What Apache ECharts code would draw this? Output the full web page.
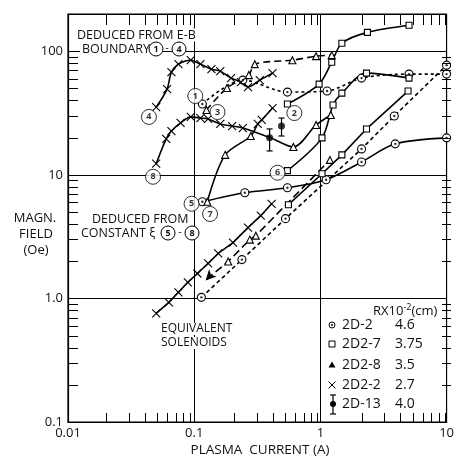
<!DOCTYPE html>
<html><head><meta charset="utf-8">
<script src="https://cdn.jsdelivr.net/npm/echarts@6/dist/echarts.min.js"></script>
<style>html,body{margin:0;padding:0;background:#fff}#c{width:457px;height:458px}</style>
</head><body><div id="c"></div>
<script>
// ---------- data ----------
const xTickLabels = ['0.01', '0.1', '1', '10'];
const yTickLabels = ['0.1', '1.0', '10', '100'];
const xMin = 0.01, xMax = 10, yMin = 0.1, yMax = 200;
const xMinor = [0.02,0.03,0.04,0.05,0.06,0.07,0.08,0.09,0.2,0.3,0.4,0.5,0.6,0.7,0.8,0.9,2,3,4,5,6,7,8,9];
const yMinor = [0.2,0.3,0.4,0.5,0.6,0.7,0.8,0.9,2,3,4,5,6,7,8,9,20,30,40,50,60,70,80,90];

// (1) 2D-2, E-B boundary
const c1_x = [0.116, 0.243, 0.548, 1.13, 2.12, 5.04, 10];
const c1_y = [37.4, 58.4, 46.7, 47.6, 60.6, 65.3, 65.3];
// (2) 2D2-7, E-B boundary
const c2_x = [0.548, 0.977, 1.23, 1.48, 2.36, 5.04];
const c2_y = [37.4, 54.2, 81.5, 116, 142, 162];
// (3) 2D2-8, E-B boundary
const c3_x = [0.125, 0.182, 0.271, 0.302, 0.600, 0.925, 1.23];
const c3_y = [33.4, 50.4, 64.1, 78.6, 84.6, 91.2, 92.9];
// (4) 2D2-2, E-B boundary
const c4_x = [0.050, 0.061, 0.066, 0.075, 0.094, 0.112, 0.137, 0.161, 0.196, 0.235, 0.267, 0.331, 0.418];
const c4_y = [35.3, 49.4, 67.8, 78.6, 84.6, 78.6, 71.6, 69.0, 60.6, 56.3, 51.3, 58.4, 66.5];
// (5) 2D-2, constant xi
const c5_x = [0.116, 0.252, 0.548, 1.11, 2.12, 3.92, 10];
const c5_y = [6.05, 7.16, 7.85, 9.12, 12.7, 17.8, 19.9];
// (6) 2D2-7, constant xi
const c6_x = [0.548, 1.03, 1.26, 1.48, 2.32, 5.04];
const c6_y = [10.8, 19.9, 36.7, 45.8, 66.5, 60.6];
// (7) 2D2-8, constant xi
const c7_x = [0.127, 0.176, 0.281, 0.319, 0.343, 0.418];
const c7_y = [6.05, 14.5, 20.6, 25.8, 27.8, 34.7];
const c7_sym = ['tri', 'tri', 'tri', 'x', 'x', 'x'];
// (8) 2D2-2, constant xi
const c8_x = [0.050, 0.060, 0.066, 0.078, 0.094, 0.112, 0.129, 0.161, 0.200, 0.243, 0.403, 0.611, 0.925, 1.21];
const c8_y = [12.3, 19.5, 22.6, 26.3, 29.4, 28.8, 28.3, 25.8, 24.8, 23.9, 19.9, 16.8, 25.3, 30.5];
const c8_sym = ['x','x','x','x','x','x','x','x','x','x','none','tri','tri','tri'];
// equivalent solenoids
const solX_x = [0.050, 0.063, 0.075, 0.089, 0.106, 0.129, 0.155, 0.203, 0.267, 0.337, 0.411];
const solX_y = [0.757, 0.929, 1.12, 1.35, 1.59, 1.92, 2.31, 2.83, 3.74, 4.67, 5.83];
const solT_x = [0.125, 0.186, 0.276, 0.308, 1.19];
const solT_y = [1.42, 1.99, 2.99, 3.22, 13.2];
const solT_sym = ['arrow', 'tri', 'tri', 'tri', 'tri'];
const solS_x = [0.558, 1.03, 1.48, 2.32, 4.95];
const solS_y = [5.73, 10.2, 14.5, 23.5, 47.6];
const solC_x = [0.114, 0.239, 0.529, 2.12, 3.85, 10];
const solC_y = [1.02, 2.06, 4.42, 16.2, 29.9, 77.1];
// 2D-13 with error bars
const e_x = [0.396, 0.492];
const e_y = [19.9, 24.8];
const e_lo = [15.6, 20.6];
const e_hi = [23.5, 28.8];
// circled curve numbers
const note_text = ['1', '2', '3', '4', '5', '6', '7', '8'];
const note_x = [0.102, 0.622, 0.153, 0.0438, 0.0953, 0.458, 0.1336, 0.0472];
const note_y = [43.4, 31.6, 32.2, 29.4, 5.83, 10.4, 4.82, 9.64];
// legend
const legNames = ['2D-2', '2D2-7', '2D2-8', '2D2-2', '2D-13'];
const legVals = ['4.6', '3.75', '3.5', '2.7', '4.0'];

// ---------- styling ----------
const FONT = "'Open Sans', 'DejaVu Sans', sans-serif";
const INK = '#111';
const CROSS = 'path://M0,0L10,10M10,0L0,10';
const SYM = {circ: 'circle', sq: 'rect', tri: 'triangle', x: CROSS, arrow: 'arrow', none: 'none'};
const GRID = {left: 68, right: 6, top: 14, bottom: 36};
const W = 457, H = 458;

function pts(xs, ys, syms) {
  return xs.map((x, i) => {
    const d = {value: [x, ys[i]]};
    if (syms) {
      d.symbol = SYM[syms[i]];
      if (syms[i] === 'arrow') { d.symbolRotate = 136; d.symbolSize = [6, 8]; d.itemStyle = {color: '#000'}; }
      if (syms[i] === 'x') d.symbolSize = 8;
    }
    return d;
  });
}
function lineS(xs, ys, opt) {
  return {
    type: 'line', data: pts(xs, ys, opt.syms), symbol: SYM[opt.sym], symbolSize: opt.size || 7,
    showAllSymbol: true, smooth: opt.smooth === undefined ? 0.3 : opt.smooth,
    lineStyle: {color: '#000', width: opt.width || 1.6, type: opt.dash || 'solid'},
    itemStyle: {color: '#fff', borderColor: '#000', borderWidth: 1.1},
    z: 3, animation: false, emphasis: {disabled: true}, silent: true
  };
}
function dots(xs, ys) {
  return {type: 'scatter', data: xs.map((x, i) => [x, ys[i]]), symbol: 'circle', symbolSize: 2.4,
    itemStyle: {color: '#000'}, z: 4, animation: false, silent: true};
}

const series = [
  lineS(c1_x, c1_y, {sym: 'circ', dash: [3, 3], size: 8}),
  dots(c1_x, c1_y),
  lineS(c2_x, c2_y, {sym: 'sq', size: 6}),
  lineS(c3_x, c3_y, {sym: 'tri', dash: [7, 4]}),
  lineS(c4_x, c4_y, {sym: 'x', size: 8}),
  lineS(c5_x, c5_y, {sym: 'circ', size: 8}),
  dots(c5_x, c5_y),
  lineS(c6_x, c6_y, {sym: 'sq', size: 6}),
  lineS(c7_x, c7_y, {syms: c7_sym, sym: 'tri'}),
  lineS(c8_x, c8_y, {syms: c8_sym, sym: 'x'}),
  lineS(solX_x, solX_y, {sym: 'x', size: 8, smooth: false}),
  lineS(solT_x, solT_y, {syms: solT_sym, sym: 'tri', dash: [8, 4], smooth: false}),
  lineS(solS_x, solS_y, {sym: 'sq', size: 6, smooth: false}),
  lineS(solC_x, solC_y, {sym: 'circ', size: 8, dash: [4, 3], smooth: false}),
  dots(solC_x, solC_y),
  // error bars 2D-13
  {type: 'custom', coordinateSystem: 'cartesian2d', silent: true, z: 4, animation: false, encode: {x: 0, y: [1, 2]},
   data: e_x.map((x, i) => [x, e_lo[i], e_hi[i]]),
   renderItem: (p, api) => {
     const x = api.value(0);
     const t = api.coord([x, api.value(2)]); const b = api.coord([x, api.value(1)]);
     return {type: 'group', children: [
       {type: 'line', shape: {x1: t[0], y1: t[1], x2: b[0], y2: b[1]}, style: {stroke: '#000', lineWidth: 1.2}},
       {type: 'line', shape: {x1: t[0] - 3, y1: t[1], x2: t[0] + 3, y2: t[1]}, style: {stroke: '#000', lineWidth: 1.2}},
       {type: 'line', shape: {x1: b[0] - 3, y1: b[1], x2: b[0] + 3, y2: b[1]}, style: {stroke: '#000', lineWidth: 1.2}}]};
   }},
  {type: 'scatter', data: e_x.map((x, i) => [x, e_y[i]]), symbol: 'circle', symbolSize: 7,
   itemStyle: {color: '#000'}, z: 5, animation: false, silent: true},
  // circled numbers
  {type: 'scatter', z: 10, animation: false, silent: true,
   data: note_x.map((x, i) => ({value: [x, note_y[i]], name: note_text[i]})),
   symbol: 'circle', symbolSize: 15,
   itemStyle: {color: '#fff', borderColor: '#000', borderWidth: 1},
   label: {show: true, position: 'inside', formatter: '{b}', fontSize: 9, fontWeight: 'bold', color: '#000', fontFamily: FONT}}
];

// ---------- graphic text ----------
function T(text, x, y, size, align, extra) {
  return Object.assign({type: 'text', x: x, y: y, z: 100,
    style: Object.assign({text: text, font: size + 'px ' + FONT, fill: INK, align: align || 'left', verticalAlign: 'middle'}, (extra || {}))});
}
function C(cx, cy, num) {
  return [
    {type: 'circle', z: 100, shape: {cx: cx, cy: cy, r: 7}, style: {fill: '#fff', stroke: '#000', lineWidth: 1}},
    T(num, cx, cy + 0.5, 9, 'center', {font: 'bold 9px ' + FONT})
  ];
}
function L(x1, y1, x2, y2, w) {
  return {type: 'line', z: 100, shape: {x1: x1, y1: y1, x2: x2, y2: y2}, style: {stroke: '#000', lineWidth: w || 1}};
}
const legY = [325, 344, 365, 385, 404];
const graphics = [
  T('DEDUCED FROM E-B', 77, 35, 12.5, 'left', {backgroundColor: '#fff'}),
  T('BOUNDARY', 80, 49, 12.5, 'left', {backgroundColor: '#fff', padding: [0, 2, 0, 2]}),
  ...C(156, 49, '1'), T('-', 167, 48, 11, 'center'), ...C(179, 49, '4'),
  T('DEDUCED FROM', 92, 219, 12.5, 'left', {backgroundColor: '#fff'}),
  T('CONSTANT ξ', 81, 233, 12.5, 'left', {backgroundColor: '#fff'}),
  ...C(168, 233, '5'), T('-', 180, 232, 11, 'center'), ...C(192, 233, '8'),
  T('EQUIVALENT', 161, 329, 12, 'left', {backgroundColor: '#fff'}),
  T('SOLENOIDS', 161, 343, 12, 'left', {backgroundColor: '#fff'}),
  T('MAGN.', 35, 218, 13, 'center'),
  T('FIELD', 36, 234, 13, 'center'),
  T('(Oe)', 36, 250, 13, 'center'),
  T('PLASMA  CURRENT (A)', 260, 450, 13.5, 'center'),
  {type: 'text', x: 373, y: 311, z: 100, style: {
    text: 'RX10{s|-2}(cm)', font: '13px ' + FONT, fill: INK, align: 'left', verticalAlign: 'middle',
    rich: {s: {fontSize: 9, verticalAlign: 'top', padding: [0, 0, 8, 0], fill: INK, fontFamily: FONT}}}}
];
legNames.forEach((n, i) => {
  graphics.push(T(n, 342, legY[i], 14, 'left'));
  graphics.push(T(legVals[i], 395, legY[i], 14, 'left'));
});
// legend symbols
const sx = 332;
graphics.push({type: 'circle', z: 100, shape: {cx: sx, cy: legY[0], r: 3}, style: {fill: '#fff', stroke: '#000', lineWidth: 1}});
graphics.push({type: 'circle', z: 101, shape: {cx: sx, cy: legY[0], r: 1}, style: {fill: '#000'}});
graphics.push({type: 'rect', z: 100, shape: {x: sx - 3, y: legY[1] - 3, width: 6, height: 6}, style: {fill: '#fff', stroke: '#000', lineWidth: 1}});
graphics.push({type: 'polygon', z: 100, shape: {points: [[sx, legY[2] - 3.5], [sx + 3.5, legY[2] + 2.5], [sx - 3.5, legY[2] + 2.5]]}, style: {fill: '#000'}});
graphics.push(L(sx - 3.5, legY[3] - 3.5, sx + 3.5, legY[3] + 3.5));
graphics.push(L(sx + 3.5, legY[3] - 3.5, sx - 3.5, legY[3] + 3.5));
graphics.push(L(sx + 1, legY[4] - 9, sx + 1, legY[4] + 10, 1.2));
graphics.push(L(sx - 2, legY[4] - 9, sx + 4, legY[4] - 9, 1.2));
graphics.push(L(sx - 2, legY[4] + 10, sx + 4, legY[4] + 10, 1.2));
graphics.push({type: 'circle', z: 100, shape: {cx: sx + 1, cy: legY[4], r: 3}, style: {fill: '#000'}});

// minor axis ticks (axis decoration) on all four sides, each with its own style object
const gB = H - GRID.bottom, gT = GRID.top, gL = GRID.left, gR = W - GRID.right;
const lx0 = Math.log10(xMin), lx1 = Math.log10(xMax), ly0 = Math.log10(yMin), ly1 = Math.log10(yMax);
for (let i = 0; i < xMinor.length; i++) {
  const x = Math.round(gL + (Math.log10(xMinor[i]) - lx0) / (lx1 - lx0) * (gR - gL)) + 0.5;
  graphics.push(L(x, gB, x, gB - 9));
  graphics.push(L(x, gT, x, gT + 11));
}
for (let i = 0; i < yMinor.length; i++) {
  const y = Math.round(gB - (Math.log10(yMinor[i]) - ly0) / (ly1 - ly0) * (gB - gT)) + 0.5;
  graphics.push(L(gL, y, gL + 10, y));
  graphics.push(L(gR, y, gR - 9, y));
}

function decadeLabel(labels, offset) {
  return v => {
    const e = Math.log10(v);
    if (Math.abs(e - Math.round(e)) > 1e-6) return '';
    return labels[Math.round(e) + offset] || '';
  };
}

const chart = echarts.init(document.getElementById('c'), null, {renderer: 'canvas'});
chart.setOption({
  animation: false,
  backgroundColor: '#fff',
  grid: Object.assign({show: true, borderColor: '#000', borderWidth: 1.2, backgroundColor: 'transparent'}, GRID),
  xAxis: {type: 'log', logBase: 10, min: xMin, max: xMax,
    axisLine: {show: true, lineStyle: {color: '#000', width: 1.2}},
    axisTick: {show: false}, minorTick: {show: false},
    splitLine: {show: true, lineStyle: {color: '#000', width: 1}},
    axisLabel: {formatter: decadeLabel(xTickLabels, 2), fontSize: 13, color: INK, fontFamily: FONT, margin: 5, showMinLabel: true, showMaxLabel: true, hideOverlap: false}},
  yAxis: {type: 'log', logBase: 10, min: yMin, max: yMax,
    axisLine: {show: true, lineStyle: {color: '#000', width: 1.2}},
    axisTick: {show: false}, minorTick: {show: false},
    splitLine: {show: true, lineStyle: {color: '#000', width: 1}},
    axisLabel: {formatter: decadeLabel(yTickLabels, 1), fontSize: 13, color: INK, fontFamily: FONT, margin: 5, showMinLabel: true, showMaxLabel: true, hideOverlap: false}},
  series: series,
  graphic: {elements: graphics}
});
</script></body></html>
